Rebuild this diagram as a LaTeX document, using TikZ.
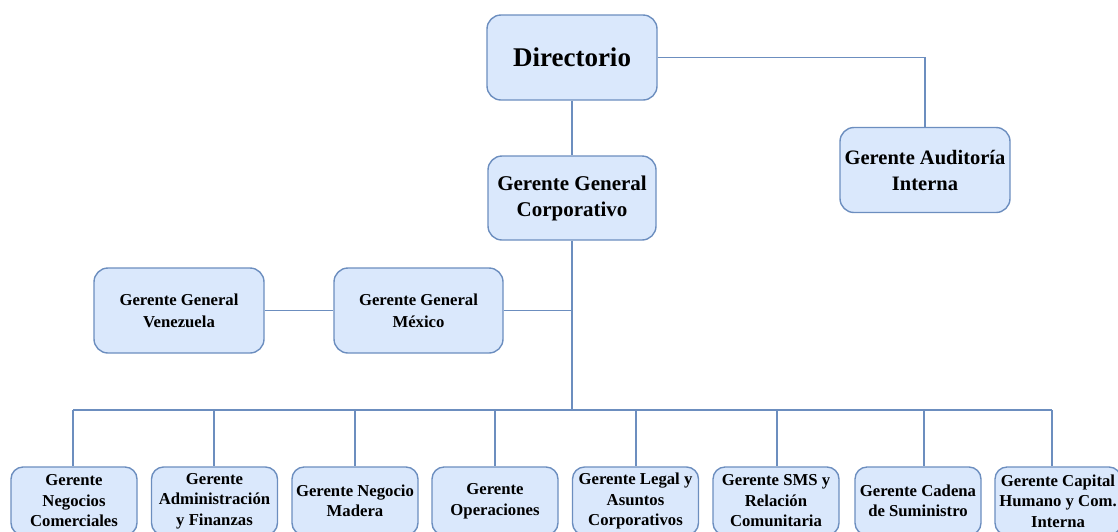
\documentclass[tikz,border=0pt]{standalone}
\usepackage{fontspec}
\setmainfont{Liberation Serif}
\definecolor{boxfill}{HTML}{DAE8FC}
\definecolor{boxline}{HTML}{6C8EBF}
\begin{document}
\begin{tikzpicture}[x=1pt,y=-1pt,
  orgbox/.style={draw=boxline, fill=boxfill, line width=1.4pt, rounded corners=14pt,
    inner sep=0pt, align=center, font=\bfseries},
  bigbox/.style={orgbox, minimum width=170pt, minimum height=85pt},
  midbox/.style={orgbox, minimum width=170pt, minimum height=85pt,
    font=\bfseries\fontsize{16.7}{22}\selectfont},
  smallbox/.style={orgbox, rounded corners=12pt, minimum width=126pt, minimum height=68pt,
    font=\bfseries\fontsize{16.7}{20.5}\selectfont},
  link/.style={draw=boxline, line width=1.3pt}]
\useasboundingbox (0,0) rectangle (1118,531);

% top levels
\node[bigbox, font=\bfseries\fontsize{27}{32}\selectfont] (dir) at (572,57.5) {Directorio};
\node[bigbox, font=\bfseries\fontsize{20.5}{26}\selectfont] (aud) at (925,170) {Gerente Auditoría\\Interna};
\node[bigbox, minimum width=168pt, minimum height=84pt, font=\bfseries\fontsize{21}{26}\selectfont] (ggc) at (572,198) {Gerente General\\Corporativo};
\node[midbox] (ven) at (179,310.5) {Gerente General\\Venezuela};
\node[midbox, minimum width=169pt] (mex) at (418.5,310.5) {Gerente General\\México};

% bottom row
\node[smallbox] (b1) at (74,501) {Gerente\\Negocios\\Comerciales};
\node[smallbox] (b2) at (214.5,501) {Gerente\\Administración\\y Finanzas};
\node[smallbox] (b3) at (355,501) {Gerente Negocio\\Madera};
\node[smallbox] (b4) at (495,501) {Gerente\\Operaciones};
\node[smallbox] (b5) at (635.5,501) {Gerente Legal y\\Asuntos\\Corporativos};
\node[smallbox] (b6) at (776,501) {Gerente SMS y\\Relación\\Comunitaria};
\node[smallbox] (b7) at (918,501) {Gerente Cadena\\de Suministro};
\node[smallbox] (b8) at (1058,501) {Gerente Capital\\Humano y Com.\\Interna};

% bus coordinates
\coordinate (hub) at (572,410);
\coordinate (d1) at (73,410);
\coordinate (d2) at (214,410);
\coordinate (d3) at (355,410);
\coordinate (d4) at (495,410);
\coordinate (d5) at (636,410);
\coordinate (d6) at (777,410);
\coordinate (d7) at (924,410);
\coordinate (d8) at (1052,410);

% connectors
\draw[link] (dir.east) -| (aud.north);
\draw[link] (dir.south) -- (ggc.north);
\draw[link] (ggc.south) -- (hub);
\draw[link] (mex.east) -- (mex.east -| hub);
\draw[link] (ven.east) -- (mex.west);
\draw[link] (d1) -- (d8);
\foreach \i in {1,...,8} {
  \draw[link] (d\i) -- (d\i |- b\i.north);
}
\end{tikzpicture}
\end{document}
